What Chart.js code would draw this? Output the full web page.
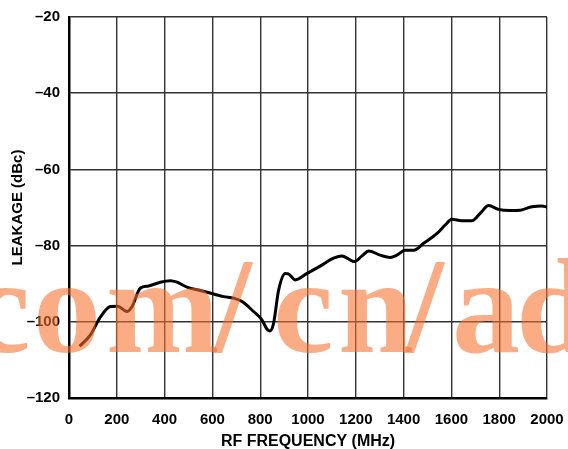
<!DOCTYPE html>
<html lang="en">
<head>
  <meta charset="UTF-8" />
  <title>RF Leakage vs Frequency</title>
  <script src="https://cdn.jsdelivr.net/npm/chart.js"></script>
  <style>
    html, body { margin: 0; padding: 0; background: #fff; }
    #wrap { width: 568px; height: 449px; position: relative; }
  </style>
</head>
<body>
  <div id="wrap"><canvas id="leakChart"></canvas></div>

  <script>
    // RF frequency (MHz) and leakage (dBc)
    const freqMHz = [44, 89, 131, 173, 203, 243, 264, 298, 333, 382, 424, 452, 494, 549, 605, 647, 689, 724,
      772, 807, 828, 840, 856, 877, 905, 918, 947, 996, 1051, 1107, 1142, 1194, 1226, 1254, 1302, 1344,
      1372, 1407, 1442, 1484, 1540, 1574, 1602, 1644, 1686, 1721, 1756, 1797, 1846, 1888, 1937, 1979, 2000];
    const leakageDbc = [-106.4, -103.5, -98.8, -96, -95.9, -97.3, -96, -91.2, -90.6, -89.6, -89.2, -89.6, -90.9,
      -91.8, -92.7, -93.4, -93.8, -94.7, -97.3, -99.5, -101.9, -102.4, -100.4, -91.7, -87.3, -87.4, -89,
      -87.3, -85.4, -83.3, -82.7, -84.2, -82.7, -81.4, -82.5, -83.1, -82.5, -81.2, -81.2, -79.4, -76.8,
      -74.6, -73.1, -73.5, -73.5, -71.5, -69.5, -70.5, -70.8, -70.7, -69.8, -69.6, -69.9];

    const xTicks = [0, 200, 400, 600, 800, 1000, 1200, 1400, 1600, 1800, 2000];
    const yTicks = [-120, -100, -80, -60, -40, -20];

    const points = freqMHz.map((f, i) => ({ x: f, y: leakageDbc[i] }));
    const dash = v => String(v).replace('-', '\u2013');

    // orange site stamp laid over the plot, glyph by glyph
    const stampText = 'com/cn/ad';
    const stampX = [-30, 33, 106, 214, 273, 338, 406, 452, 516];
    const stamp = {
      id: 'stamp',
      afterDraw(chart) {
        const c = chart.ctx;
        c.save();
        c.font = 'bold 136px "Liberation Serif"';
        c.fillStyle = 'rgba(246, 112, 44, 0.58)';
        c.textBaseline = 'alphabetic';
        c.textAlign = 'left';
        [...stampText].forEach((ch, i) => c.fillText(ch, stampX[i], 352));
        c.restore();
      }
    };

    const tickFont = { family: 'Liberation Sans', size: 15, weight: 'bold' };
    const titleFont = { family: 'Liberation Sans', size: 16, weight: 'bold' };

    new Chart(document.getElementById('leakChart'), {
      type: 'line',
      data: {
        datasets: [{
          data: points,
          borderColor: '#000',
          borderWidth: 3,
          pointRadius: 0,
          cubicInterpolationMode: 'monotone',
          fill: false
        }]
      },
      plugins: [stamp],
      options: {
        responsive: true,
        maintainAspectRatio: false,
        animation: false,
        layout: { padding: { left: 0, right: 21, top: 17, bottom: 0 } },
        plugins: { legend: { display: false }, tooltip: { enabled: false } },
        scales: {
          x: {
            type: 'linear',
            min: 0, max: 2000,
            afterBuildTicks: s => { s.ticks = xTicks.map(v => ({ value: v })); },
            afterFit: s => { s.height = 51; s.paddingLeft = 0; s.paddingRight = 0; },
            grid: { color: '#333', lineWidth: 1.4, drawTicks: false },
            border: { color: '#000', width: 2.5 },
            ticks: { color: '#000', font: tickFont, padding: 13, maxRotation: 0, callback: v => String(v) },
            title: { display: true, text: 'RF FREQUENCY (MHz)', color: '#000',
              font: titleFont, padding: { top: 0, bottom: -2 } }
          },
          y: {
            min: -120, max: -20,
            afterBuildTicks: s => { s.ticks = yTicks.map(v => ({ value: v })); },
            afterFit: s => { s.width = 69; s.paddingTop = 0; s.paddingBottom = 0; },
            grid: { color: '#333', lineWidth: 1.4, drawTicks: false },
            border: { color: '#000', width: 2.5 },
            ticks: { color: '#000', font: tickFont, padding: 9, callback: v => dash(v) },
            title: { display: true, text: 'LEAKAGE (dBc)', color: '#000',
              font: { family: 'Liberation Sans', size: 15, weight: 'bold' }, padding: { top: 9, bottom: 0 } }
          }
        }
      }
    });
  </script>
</body>
</html>
